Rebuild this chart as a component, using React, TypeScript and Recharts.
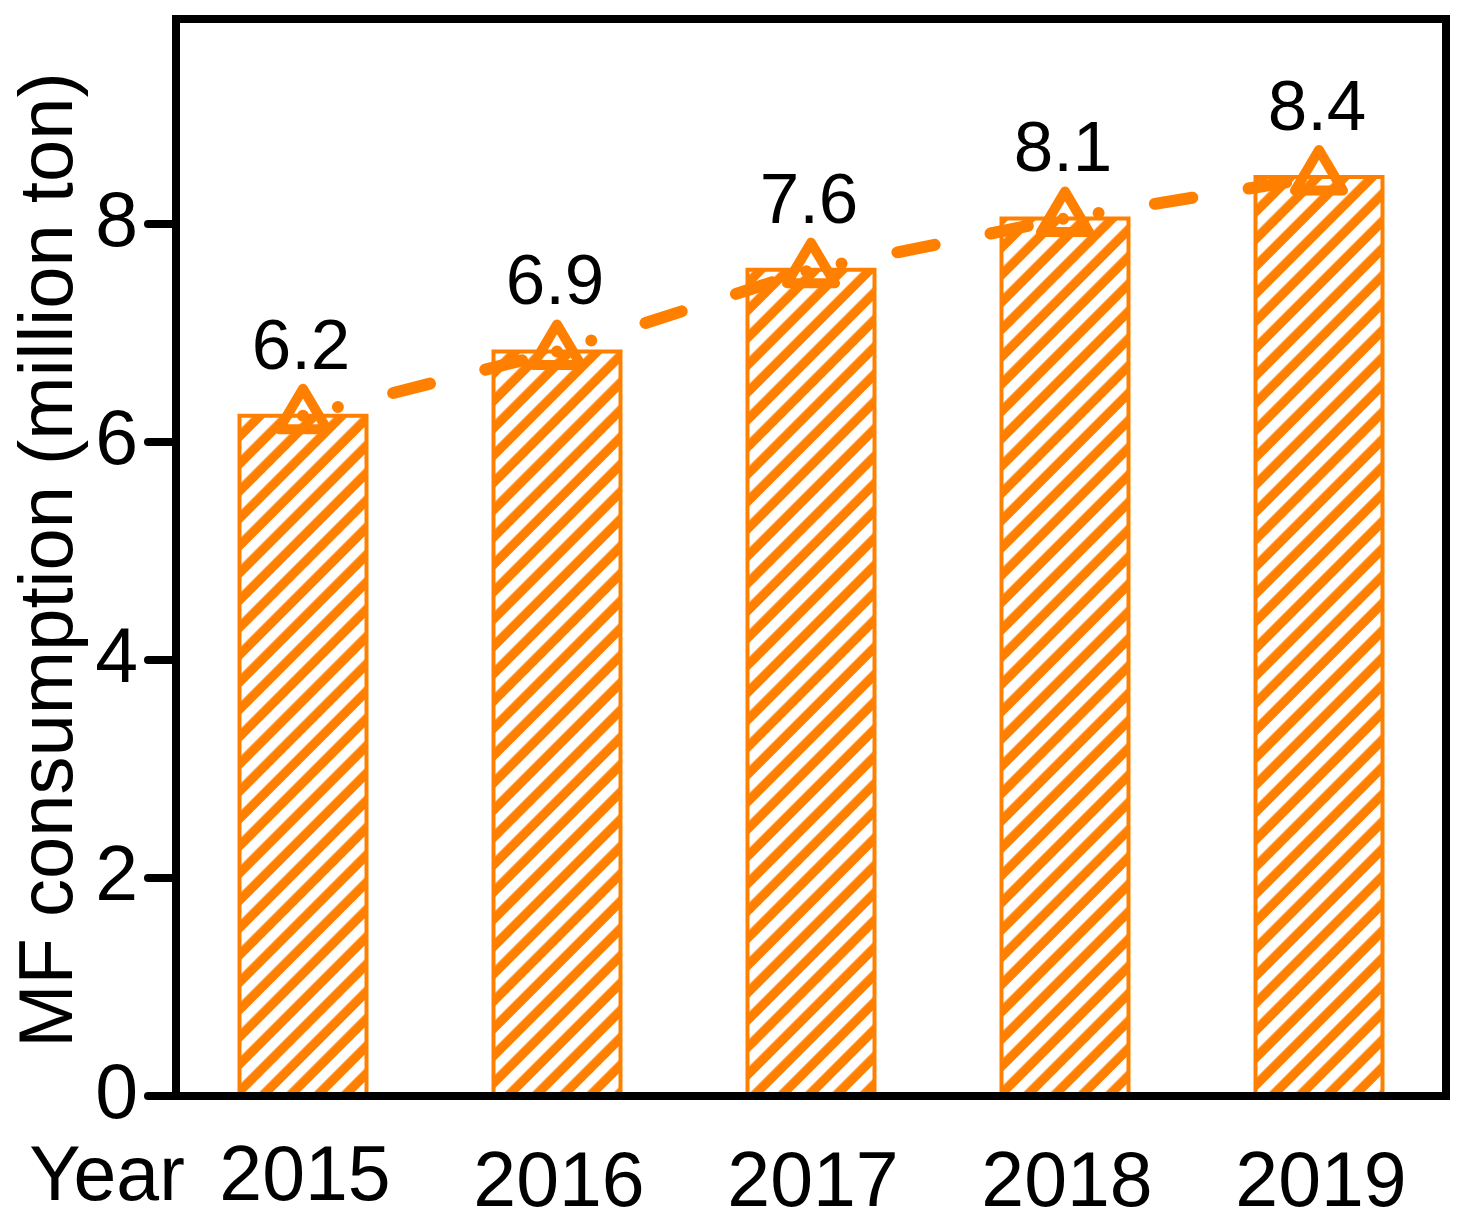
import React from "react";
import {
  Bar,
  ComposedChart,
  LabelList,
  Line,
  ReferenceLine,
  XAxis,
  YAxis,
} from "recharts";

const YEARS = ["2015", "2016", "2017", "2018", "2019"];
const CONSUMPTION = [6.24, 6.83, 7.58, 8.05, 8.43];
const VALUE_LABELS = ["6.2", "6.9", "7.6", "8.1", "8.4"];
const Y_TICKS = [0, 2, 4, 6, 8];
const Y_MAX = 9.88;

const data = YEARS.map((year, i) => ({ year, value: CONSUMPTION[i] }));

const ORANGE = "#FF8000";
const FONT = "'Liberation Sans', Arial, sans-serif";
const FRAME = { stroke: "#000", strokeWidth: 8, strokeLinecap: "square" as const, ifOverflow: "visible" as const };

function YearTick({ x, y, payload, index }: any) {
  const base = index === 0 ? 104 : 110;
  return (
    <g>
      {index === 0 && (
        <text x={107} y={y + base} textAnchor="middle" fontSize={77} fontFamily={FONT} fill="#000">
          Year
        </text>
      )}
      <text x={x + 2} y={y + base} textAnchor="middle" fontSize={77} fontFamily={FONT} fill="#000">
        {payload.value}
      </text>
    </g>
  );
}

// tick mark drawn here: text x sits tickMargin (10) left of the tick's outer end
function ValueTick({ x, y, payload }: any) {
  return (
    <g>
      <line x1={x + 10} y1={y} x2={x + 38} y2={y} stroke="#000" strokeWidth={8} strokeLinecap="round" />
      <text x={x} y={y + 22} textAnchor="end" fontSize={77} fontFamily={FONT} fill="#000">
        {payload.value}
      </text>
    </g>
  );
}

function Triangle({ cx, cy }: any) {
  if (cx == null || cy == null) return null;
  return (
    <path
      d={`M${cx},${cy - 27} L${cx + 24},${cy + 13.5} L${cx - 24},${cy + 13.5} Z`}
      fill="none"
      stroke={ORANGE}
      strokeWidth={10}
      strokeLinejoin="round"
    />
  );
}

function PointLabel({ x, y, index }: any) {
  return (
    <text x={x - 2} y={y - 47} textAnchor="middle" fontSize={71} fontFamily={FONT} fill="#000">
      {VALUE_LABELS[index]}
    </text>
  );
}

function YTitle() {
  return (
    <text
      x={72}
      y={560}
      transform="rotate(-90 72 560)"
      textAnchor="middle"
      fontSize={76}
      fontFamily={FONT}
      fill="#000"
    >
      MF consumption (million ton)
    </text>
  );
}

export default function App() {
  return (
    <div style={{ position: "absolute", left: 0, top: 0, background: "#fff" }}>
      <ComposedChart
        width={1470}
        height={1231}
        data={data}
        margin={{ top: 19, right: 24, left: 0, bottom: 0 }}
        barCategoryGap="25%"
      >
        <defs>
          <pattern
            id="hatch"
            patternUnits="userSpaceOnUse"
            width={19.3}
            height={19.3}
            patternTransform="rotate(45)"
          >
            <rect x={0} y={0} width={19.3} height={19.3} fill={ORANGE} />
            <rect x={0} y={0} width={10} height={19.3} fill="#fff" />
          </pattern>
        </defs>

        <XAxis
          dataKey="year"
          height={135}
          interval={0}
          axisLine={false}
          tickLine={false}
          tickSize={0}
          tickMargin={0}
          tick={<YearTick />}
        />
        <YAxis
          width={176}
          domain={[0, Y_MAX]}
          ticks={Y_TICKS}
          interval={0}
          axisLine={false}
          tickSize={28}
          tickMargin={10}
          tickLine={false}
          tick={<ValueTick />}
          label={<YTitle />}
        />

        <Bar
          dataKey="value"
          fill="url(#hatch)"
          stroke={ORANGE}
          strokeWidth={4}
          isAnimationActive={false}
        />

        <ReferenceLine y={0} {...FRAME} />
        <ReferenceLine y={Y_MAX} {...FRAME} />
        <ReferenceLine x={YEARS[0]} position="start" {...FRAME} />
        <ReferenceLine x={YEARS[YEARS.length - 1]} position="end" {...FRAME} />

        <Line
          type="linear"
          dataKey="value"
          stroke={ORANGE}
          strokeWidth={12}
          strokeLinecap="round"
          strokeDasharray="0 36 0 57 38 57 38 36"
          dot={<Triangle />}
          activeDot={false}
          isAnimationActive={false}
        >
          <LabelList dataKey="value" content={<PointLabel />} />
        </Line>
      </ComposedChart>
    </div>
  );
}
